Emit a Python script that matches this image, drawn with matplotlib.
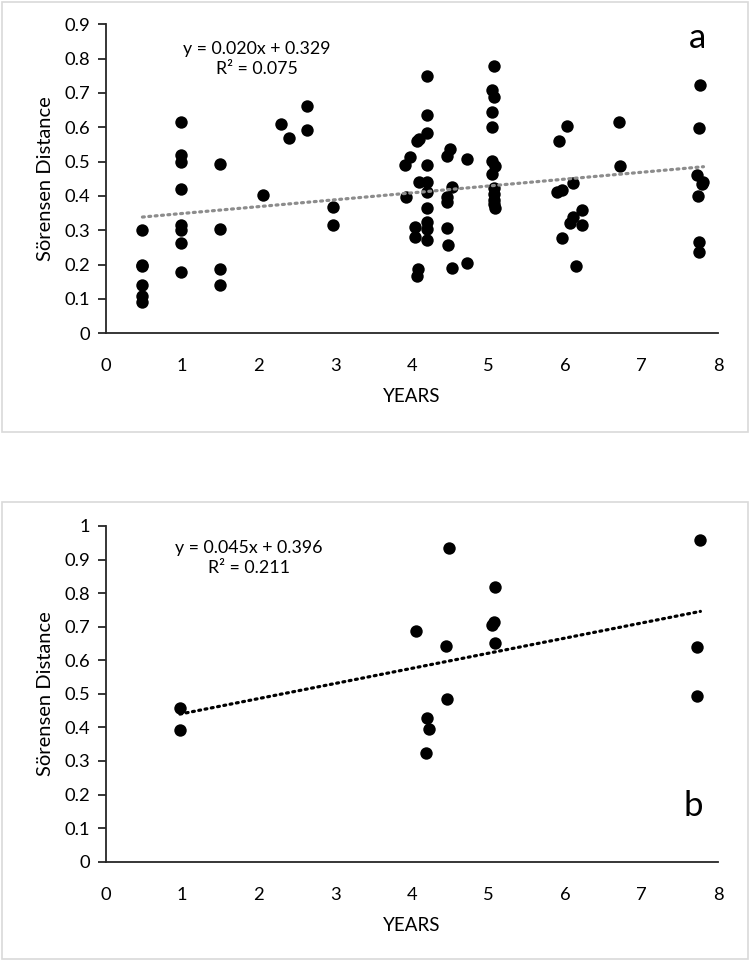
import matplotlib
matplotlib.use("Agg")
import matplotlib.pyplot as plt
from matplotlib.patches import Rectangle
import numpy as np

plt.rcParams['font.family'] = ['Lato', 'DejaVu Sans']

# ---- Panel a data ----
years_a = [0.48, 0.48, 0.48, 0.48, 0.48, 0.48,
           0.98, 0.98, 0.98, 0.98, 0.98, 0.98, 0.98, 0.98,
           1.49, 1.49, 1.49, 1.49,
           2.06, 2.29, 2.39, 2.635, 2.635, 2.97, 2.97,
           4.2, 4.2, 4.2, 4.2, 4.2, 4.2, 4.2, 4.2, 4.2, 4.2,
           4.065, 4.09, 3.98, 3.91, 4.09, 3.93, 4.04, 4.04, 4.08, 4.07,
           4.5, 4.46, 4.52, 4.46, 4.46, 4.46, 4.47, 4.52, 4.72, 4.72,
           5.07, 5.05, 5.07, 5.05, 5.05, 5.05, 5.08, 5.05, 5.07, 5.07, 5.07, 5.07, 5.08,
           6.03, 5.92, 6.11, 5.895, 5.96, 6.22, 6.11, 6.07, 6.22, 5.96, 6.14,
           6.71, 6.72,
           7.77, 7.755, 7.725, 7.81, 7.79, 7.74, 7.755, 7.755]
dist_a = [0.30, 0.20, 0.195, 0.14, 0.11, 0.09,
          0.615, 0.52, 0.50, 0.42, 0.315, 0.30, 0.262, 0.178,
          0.494, 0.303, 0.187, 0.142,
          0.403, 0.61, 0.569, 0.663, 0.591, 0.369, 0.316,
          0.748, 0.635, 0.583, 0.489, 0.44, 0.413, 0.364, 0.325, 0.303, 0.272,
          0.56, 0.567, 0.513, 0.489, 0.442, 0.396, 0.311, 0.28, 0.187, 0.167,
          0.537, 0.515, 0.425, 0.398, 0.383, 0.308, 0.257, 0.189, 0.507, 0.206,
          0.779, 0.709, 0.688, 0.646, 0.60, 0.503, 0.486, 0.464, 0.423, 0.406, 0.389, 0.377, 0.364,
          0.604, 0.561, 0.437, 0.411, 0.418, 0.359, 0.34, 0.322, 0.314, 0.277, 0.197,
          0.614, 0.486,
          0.722, 0.598, 0.462, 0.442, 0.435, 0.40, 0.267, 0.238]
slope_a, intercept_a, r2_a = 0.020, 0.329, 0.075

# ---- Panel b data ----
years_b = [0.97, 0.97, 4.49, 5.08, 5.07, 5.05, 5.08, 4.05, 4.44, 4.46, 4.2, 4.23, 4.19, 7.77, 7.73, 7.73]
dist_b = [0.457, 0.392, 0.934, 0.817, 0.715, 0.705, 0.65, 0.686, 0.642, 0.484, 0.427, 0.394, 0.325, 0.958, 0.64, 0.494]
slope_b, intercept_b, r2_b = 0.045, 0.396, 0.211

W, H = 750, 961
fig = plt.figure(figsize=(W / 100, H / 100), dpi=100)

# chart-area borders
fig.patches.append(Rectangle((1.5 / W, 1 - 431.5 / H), 746.5 / W, 430 / H,
                             transform=fig.transFigure, fill=False,
                             edgecolor='#d9d9d9', linewidth=1.2))
fig.patches.append(Rectangle((1.5 / W, 1 - 959 / H), 746.5 / W, 457.5 / H,
                             transform=fig.transFigure, fill=False,
                             edgecolor='#d9d9d9', linewidth=1.2))


def panel(rect, xs, ys, slope, intercept, r2, ymax, yticks, line_color, letter,
          letter_xy, eq_xy):
    ax = fig.add_axes(rect)
    ax.scatter(xs, ys, s=80, color='black', zorder=3, linewidths=0)
    xl = np.array([min(xs), max(xs)])
    ax.plot(xl, slope * xl + intercept, color=line_color, lw=2.3,
            linestyle=(0, (0.6, 1.4)), dash_capstyle='round', zorder=4)
    ax.set_xlim(0, 8)
    ax.set_ylim(0, ymax)
    ax.set_xticks(range(0, 9))
    ax.set_yticks(yticks)
    ax.set_yticklabels([('%g' % v) for v in yticks])
    for s in ['top', 'right']:
        ax.spines[s].set_visible(False)
    for s in ['left', 'bottom']:
        ax.spines[s].set_color('#262626')
        ax.spines[s].set_linewidth(1.3)
    ax.tick_params(axis='x', length=0, pad=18, labelsize=13.2)
    ax.tick_params(axis='y', length=6, width=1.3, color='#262626', pad=5,
                   labelsize=13.2)
    ax.set_ylabel('Sörensen Distance', fontsize=14.5, labelpad=8)
    ax.set_xlabel('YEARS', fontsize=13.5, labelpad=10)
    ax.patch.set_alpha(0)
    fig.text(eq_xy[0] / W, 1 - eq_xy[1] / H,
             'y = %.3fx + %.3f\nR² = %.3f' % (slope, intercept, r2),
             ha='center', va='center', fontsize=12.8, linespacing=1.3)
    fig.text(letter_xy[0] / W, 1 - letter_xy[1] / H, letter,
             ha='center', va='center', fontsize=25)
    return ax


panel([105.7 / W, 1 - 333.3 / H, (718 - 105.7) / W, (333.3 - 24.3) / H],
      years_a, dist_a, slope_a, intercept_a, r2_a, 0.9,
      [0, 0.1, 0.2, 0.3, 0.4, 0.5, 0.6, 0.7, 0.8, 0.9], '#8c8c8c', 'a',
      (698, 38), (257, 59))

panel([105.7 / W, 1 - 861.7 / H, (718 - 105.7) / W, (861.7 - 526) / H],
      years_b, dist_b, slope_b, intercept_b, r2_b, 1.0,
      [0, 0.1, 0.2, 0.3, 0.4, 0.5, 0.6, 0.7, 0.8, 0.9, 1.0], 'black', 'b',
      (693, 806), (249, 558))

fig.savefig('out.png', dpi=100, facecolor='white')
